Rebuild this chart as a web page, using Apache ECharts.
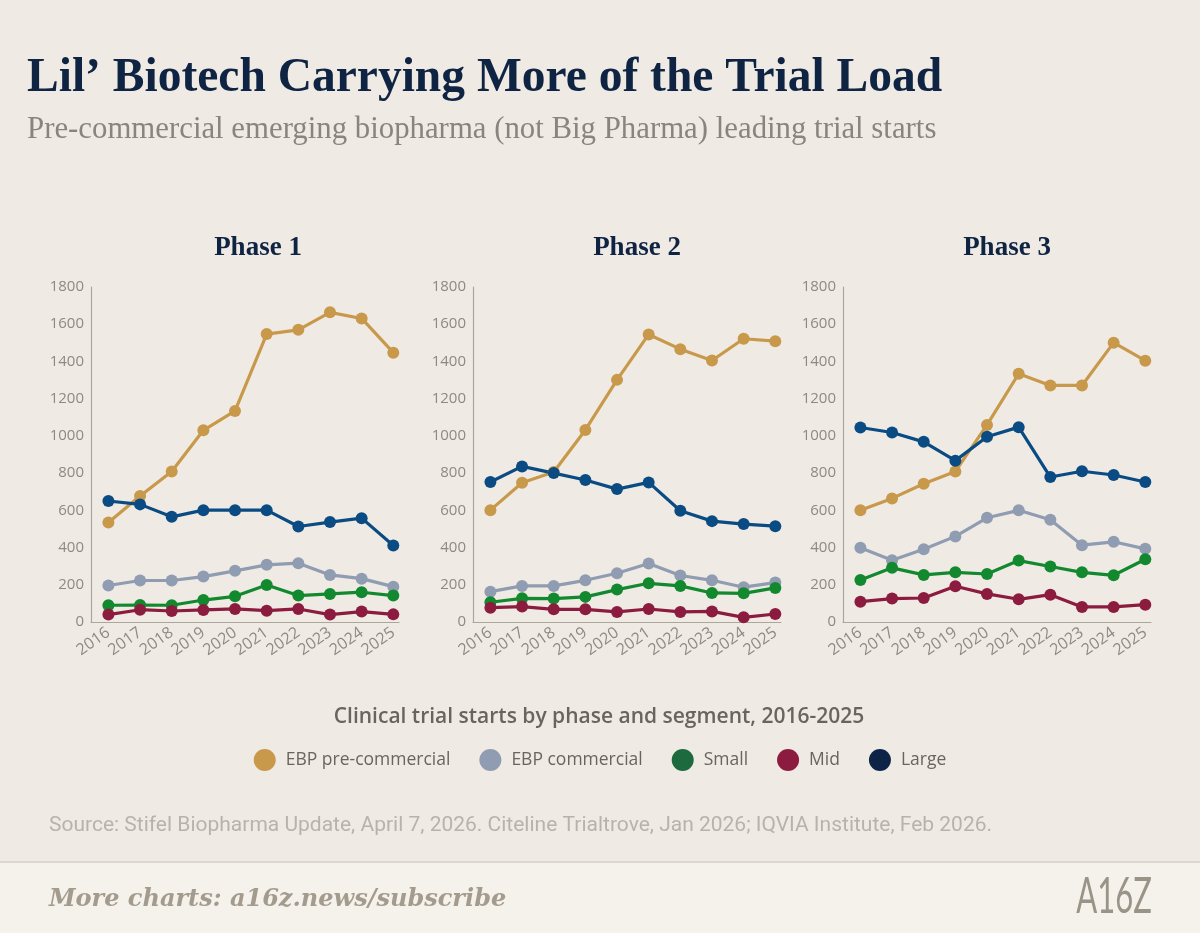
<!DOCTYPE html>
<html>
<head>
<meta charset="utf-8">
<script src="https://cdn.jsdelivr.net/npm/echarts@6/dist/echarts.min.js"></script>
<style>
  html, body { margin: 0; padding: 0; background: #efebe4; }
  #chart { width: 1200px; height: 933px; }
</style>
</head>
<body>
<div id="chart"></div>
<script>
// ---- Data ----
const years = [2016, 2017, 2018, 2019, 2020, 2021, 2022, 2023, 2024, 2025];
const seriesNames = ['EBP pre-commercial', 'EBP commercial', 'Small', 'Mid', 'Large'];
const phaseTitles = ['Phase 1', 'Phase 2', 'Phase 3'];

const p1Pre   = [535, 677, 809, 1030, 1134, 1547, 1570, 1664, 1631, 1447];
const p1Com   = [196, 223, 223, 244, 275, 307, 316, 253, 233, 190];
const p1Small = [90, 91, 90, 118, 138, 199, 142, 151, 160, 142];
const p1Mid   = [40, 66, 59, 65, 70, 61, 70, 40, 56, 41];
const p1Large = [650, 632, 565, 601, 601, 601, 513, 537, 558, 411];

const p2Pre   = [601, 748, 806, 1032, 1301, 1545, 1466, 1405, 1522, 1509];
const p2Com   = [163, 194, 194, 224, 262, 314, 250, 224, 187, 212];
const p2Small = [106, 127, 126, 135, 174, 208, 194, 156, 154, 183];
const p2Mid   = [77, 83, 68, 68, 54, 70, 54, 57, 25, 43];
const p2Large = [752, 836, 800, 763, 714, 750, 598, 542, 526, 515];

const p3Pre   = [600, 664, 743, 809, 1059, 1334, 1271, 1271, 1501, 1404];
const p3Com   = [399, 332, 391, 460, 560, 600, 549, 413, 431, 393];
const p3Small = [226, 291, 253, 267, 258, 330, 298, 267, 251, 337];
const p3Mid   = [109, 126, 129, 192, 151, 122, 147, 81, 81, 93];
const p3Large = [1045, 1018, 968, 867, 995, 1047, 779, 810, 790, 752];

const phases = [
  [p1Pre, p1Com, p1Small, p1Mid, p1Large],
  [p2Pre, p2Com, p2Small, p2Mid, p2Large],
  [p3Pre, p3Com, p3Small, p3Mid, p3Large]
];

// ---- Styles ----
const lineColors = ['#c8994b', '#8f9cb1', '#13892f', '#8c1c3f', '#0b4b83'];
const legendColors = ['#c8994b', '#8f9cb1', '#1c6a3d', '#8c1c3f', '#0e2447'];
const gridLefts = [91, 473, 843];
const titleCenters = [258, 637, 1007];
const axisColor = '#aba69e';
const labelColor = '#8e8983';

const grids = [], xAxes = [], yAxes = [], series = [];
gridLefts.forEach((left, gi) => {
  grids.push({ left: left, top: 287, width: 308, height: 335, containLabel: false });
  xAxes.push({
    type: 'value', gridIndex: gi, min: 2015.45, max: 2025.18,
    axisLine: { show: true, lineStyle: { color: axisColor, width: 1.2 } },
    axisTick: { show: false },
    splitLine: { show: false },
    axisLabel: {
      customValues: years, rotate: 35, margin: 9,
      color: labelColor, fontSize: 16, fontFamily: 'Open Sans',
      formatter: v => String(v)
    }
  });
  yAxes.push({
    type: 'value', gridIndex: gi, min: 0, max: 1800, interval: 200,
    axisLine: { show: true, lineStyle: { color: axisColor, width: 1.2 } },
    axisTick: { show: false },
    splitLine: { show: false },
    axisLabel: { color: labelColor, fontSize: 15, fontFamily: 'Open Sans', margin: 7,
      formatter: v => String(v) }
  });
  phases[gi].forEach((vals, si) => {
    series.push({
      name: seriesNames[si], type: 'line', xAxisIndex: gi, yAxisIndex: gi,
      data: years.map((y, i) => [y, vals[i]]),
      symbol: 'circle', symbolSize: 12, showSymbol: true,
      lineStyle: { color: lineColors[si], width: 3.2 },
      itemStyle: { color: lineColors[si] },
      emphasis: { disabled: true },
      animation: false
    });
  });
});

const graphics = [
  // footer band
  { type: 'rect', shape: { x: 0, y: 862, width: 1200, height: 71 }, style: { fill: '#f5f2eb' }, z: -1 },
  { type: 'line', shape: { x1: 0, y1: 862, x2: 1200, y2: 862 }, style: { stroke: '#dcd7cc', lineWidth: 2 } },
  { type: 'text', x: 27, y: 79, style: {
      text: 'Lil\u2019 Biotech Carrying More of the Trial Load', fill: '#0f2443',
      font: 'bold 47.5px "Liberation Serif", serif', textVerticalAlign: 'middle' } },
  { type: 'text', x: 27, y: 130, style: {
      text: 'Pre-commercial emerging biopharma (not Big Pharma) leading trial starts', fill: '#8a847d',
      font: '30.8px "Liberation Serif", serif', textVerticalAlign: 'middle' } },
  { type: 'text', x: 599, y: 717, style: {
      text: 'Clinical trial starts by phase and segment, 2016-2025', fill: '#6a645e',
      font: '600 21px "Open Sans", sans-serif', textAlign: 'center', textVerticalAlign: 'middle' } },
  { type: 'text', x: 49, y: 826, style: {
      text: 'Source: Stifel Biopharma Update, April 7, 2026. Citeline Trialtrove, Jan 2026; IQVIA Institute, Feb 2026.',
      fill: '#b8b3aa', font: '21px Roboto, sans-serif', textVerticalAlign: 'middle' } },
  { type: 'text', x: 49, y: 900, style: {
      text: 'More charts: a16z.news/subscribe', fill: '#a39b8d',
      font: 'italic bold 24px "DejaVu Serif", serif', textVerticalAlign: 'middle' } },
  { type: 'text', x: 1114, y: 897, scaleX: 0.62, style: {
      text: 'A16Z', fill: '#9a9488',
      font: '400 50px Lato, sans-serif', textAlign: 'center', textVerticalAlign: 'middle' } }
];
phaseTitles.forEach((t, i) => {
  graphics.push({ type: 'text', x: titleCenters[i], y: 248, style: {
    text: t, fill: '#0f2443', font: 'bold 27px "Liberation Serif", serif',
    textAlign: 'center', textVerticalAlign: 'middle' } });
});

const chart = echarts.init(document.getElementById('chart'), null, { renderer: 'canvas' });
chart.setOption({
  backgroundColor: '#efebe4',
  animation: false,
  grid: grids,
  xAxis: xAxes,
  yAxis: yAxes,
  legend: {
    left: 'center', top: 744,
    icon: 'circle', itemWidth: 22, itemHeight: 22, itemGap: 29,
    selectedMode: false,
    textStyle: { color: '#6a645e', fontSize: 17.5, fontFamily: 'Open Sans', padding: [0, 0, 0, 5] },
    data: seriesNames.map((n, i) => ({ name: n, itemStyle: { color: legendColors[i] } }))
  },
  graphic: graphics,
  series: series
});
</script>
</body>
</html>
